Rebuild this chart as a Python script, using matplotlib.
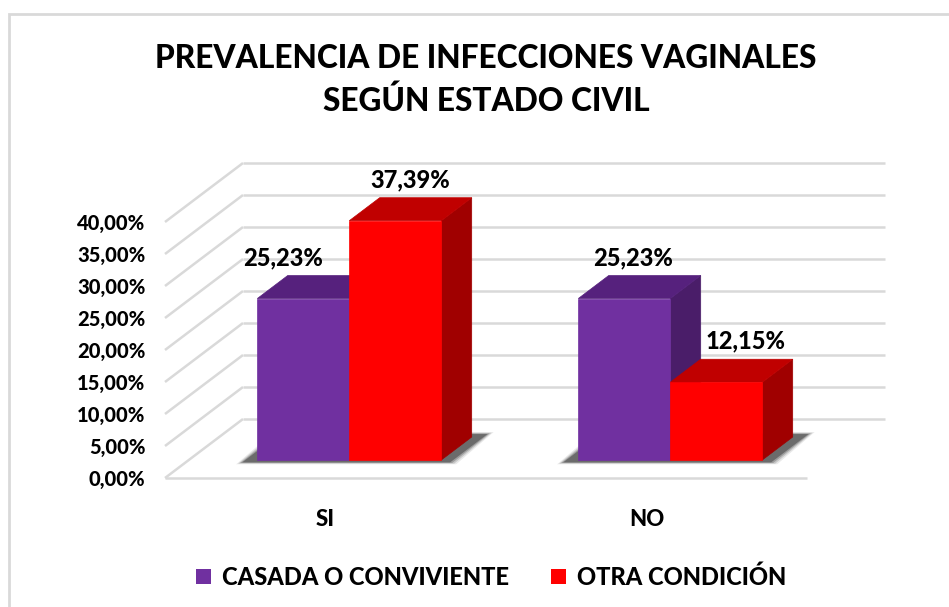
import matplotlib
matplotlib.use("Agg")
import matplotlib.pyplot as plt
from matplotlib.patches import Polygon, Rectangle, Patch
from matplotlib import font_manager

categories = ["SI", "NO"]
series_names = ["CASADA O CONVIVIENTE", "OTRA CONDICIÓN"]
casada = [25.23, 25.23]
otra = [37.39, 12.15]
yticks = [0, 5, 10, 15, 20, 25, 30, 35, 40]

FONT = "Lato"
avail = {f.name for f in font_manager.fontManager.ttflist}
if FONT not in avail:
    FONT = "DejaVu Sans"
plt.rcParams["font.family"] = [FONT, "DejaVu Sans"]
WEIGHT = 900
plt.rcParams["font.weight"] = WEIGHT

W, H = 949, 607
fig = plt.figure(figsize=(W / 100, H / 100), dpi=100)

# chart border
fig.patches.append(Rectangle((9 / W, 0 - 0.01), 1.2, (H - 14) / H + 0.01,
                             transform=fig.transFigure, fill=False,
                             edgecolor="#D9D9D9", lw=2))

# axes front plane
ax = fig.add_axes([165 / W, 1 - 478 / H, 642 / W, 256 / H])
ax.set_xlim(-0.5, 1.5)
ax.set_ylim(0, 40)
for s in ax.spines.values():
    s.set_visible(False)

# oblique depth vector (data units)
DX = 78 / 321.0
DY = 59 / 6.4
GRID = "#D9D9D9"
xmin, xmax = -0.5, 1.5

# back wall gridlines and side wall diagonals
for v in yticks:
    ax.plot([xmin + DX, xmax + DX], [v + DY, v + DY], color=GRID, lw=1.8,
            clip_on=False, zorder=1, solid_capstyle="butt")
    ax.plot([xmin, xmin + DX], [v, v + DY], color=GRID, lw=1.8,
            clip_on=False, zorder=1, solid_capstyle="butt")
# front floor edge
ax.plot([xmin, xmax], [0, 0], color=GRID, lw=1.8, clip_on=False, zorder=1,
        solid_capstyle="butt")

f0, f1 = 0.305, 0.695
w = 92 / 321.0

colors = [
    {"front": "#7030A0", "top": "#56217D", "side": "#4A1D69"},
    {"front": "#FF0000", "top": "#C00000", "side": "#A00000"},
]


def shadow(x0, x1):
    px = 1 / 321.0
    for k, (e, a) in enumerate([(6, 0.10), (4, 0.18), (2, 0.28), (0, 0.45)]):
        d0 = f0 - 0.04
        d1 = f1 + 0.05
        xl = x0 - (12 + e) * px
        xr = x1 + (12 + e) * px
        pts = [(xl + d0 * DX, d0 * DY - e * 0.05),
               (xr + d0 * DX, d0 * DY - e * 0.05),
               (xr + d1 * DX, d1 * DY + e * 0.05),
               (xl + d1 * DX, d1 * DY + e * 0.05)]
        ax.add_patch(Polygon(pts, closed=True, facecolor="#303030", alpha=a,
                             edgecolor="none", clip_on=False, zorder=2))


def bar3d(x0, x1, h, c, z):
    front = [(x0 + f0 * DX, f0 * DY), (x1 + f0 * DX, f0 * DY),
             (x1 + f0 * DX, h + f0 * DY), (x0 + f0 * DX, h + f0 * DY)]
    top = [(x0 + f0 * DX, h + f0 * DY), (x1 + f0 * DX, h + f0 * DY),
           (x1 + f1 * DX, h + f1 * DY), (x0 + f1 * DX, h + f1 * DY)]
    side = [(x1 + f0 * DX, f0 * DY), (x1 + f1 * DX, f1 * DY),
            (x1 + f1 * DX, h + f1 * DY), (x1 + f0 * DX, h + f0 * DY)]
    for pts, col in [(side, c["side"]), (top, c["top"]), (front, c["front"])]:
        ax.add_patch(Polygon(pts, closed=True, facecolor=col, edgecolor=col,
                             lw=0.5, clip_on=False, zorder=z))


label_dx = [[-35, 0], [-6, 14]]  # pixel offsets of value labels
for i, cat in enumerate(categories):
    shadow(i - w, i + w)
    vals = [casada[i], otra[i]]
    for j, v in enumerate(vals):
        x0 = i - w + j * w
        x1 = x0 + w
        bar3d(x0, x1, v, colors[j], 3 + j)
        cx = (x0 + x1) / 2 + (f0 + f1) / 2 * DX + label_dx[i][j] / 321.0
        ax.text(cx, v + f1 * DY + 1.0, f"{v:.2f}%".replace(".", ","),
                ha="center", va="bottom", fontsize=17, fontweight=WEIGHT,
                color="black", zorder=10, clip_on=False)

ax.set_yticks(yticks)
ax.set_yticklabels([f"{v:.2f}%".replace(".", ",") for v in yticks])
ax.set_xticks(range(len(categories)))
ax.set_xticklabels(categories)
ax.tick_params(axis="y", length=0, pad=14, labelsize=14.5)
ax.tick_params(axis="x", length=0, pad=22, labelsize=16)
for lab in ax.get_yticklabels() + ax.get_xticklabels():
    lab.set_fontweight(WEIGHT)

fig.text(486 / W, 1 - 59 / H, "PREVALENCIA DE INFECCIONES VAGINALES",
         ha="center", va="center", fontsize=22.8, fontweight=WEIGHT)
fig.text(486 / W, 1 - 101 / H, "SEGÚN ESTADO CIVIL",
         ha="center", va="center", fontsize=22.8, fontweight=WEIGHT)

handles = [Patch(facecolor=colors[0]["front"]), Patch(facecolor=colors[1]["front"])]
fig.legend(handles, series_names, loc="center", bbox_to_anchor=(491 / W, 1 - 577 / H),
           ncol=2, frameon=False, handlelength=0.65, handleheight=0.65,
           handletextpad=0.45, columnspacing=1.8,
           prop={"weight": WEIGHT, "size": 17})

fig.savefig("out.png", dpi=100)
